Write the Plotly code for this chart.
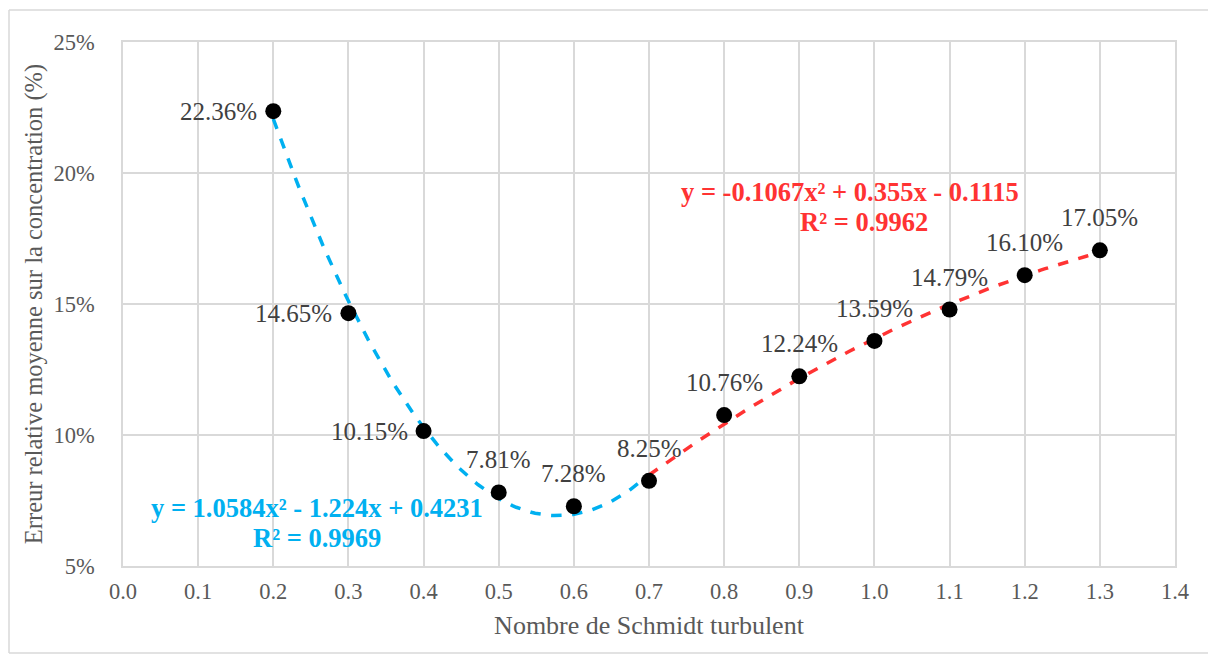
import numpy as np
import plotly.graph_objects as go

x_vals = [0.2, 0.3, 0.4, 0.5, 0.6, 0.7, 0.8, 0.9, 1.0, 1.1, 1.2, 1.3]
y_vals = [0.2236, 0.1465, 0.1015, 0.0781, 0.0728, 0.0825, 0.1076, 0.1224, 0.1359, 0.1479, 0.1610, 0.1705]
labels = ["22.36%", "14.65%", "10.15%", "7.81%", "7.28%", "8.25%", "10.76%", "12.24%", "13.59%", "14.79%", "16.10%", "17.05%"]
label_side = ["left", "left", "left", "top", "top", "top", "top", "top", "top", "top", "top", "top"]

blue_coef = [1.0584, -1.224, 0.4231]
blue_range = [0.2, 0.7]
blue_eq = "y = 1.0584x² - 1.224x + 0.4231"
blue_r2 = "R² = 0.9969"
red_coef = [-0.1067, 0.355, -0.1115]
red_range = [0.7, 1.3]
red_eq = "y = -0.1067x² + 0.355x - 0.1115"
red_r2 = "R² = 0.9962"

x_title = "Nombre de Schmidt turbulent"
y_title = "Erreur relative moyenne sur la concentration (%)"

FONT = "Liberation Serif"
fig = go.Figure()

xb = np.linspace(blue_range[0], blue_range[1], 100)
fig.add_trace(go.Scatter(x=xb, y=np.polyval(blue_coef, xb), mode="lines",
                         line=dict(color="#00B0F0", width=3.5, dash="dash"), hoverinfo="skip"))
xr = np.linspace(red_range[0], red_range[1], 100)
fig.add_trace(go.Scatter(x=xr, y=np.polyval(red_coef, xr), mode="lines",
                         line=dict(color="#FF3333", width=3.5, dash="dash"), hoverinfo="skip"))

fig.add_trace(go.Scatter(x=x_vals, y=y_vals, mode="markers",
                         marker=dict(color="black", size=16)))

lab_font = dict(family=FONT, size=25, color="#404040")
for xv, yv, t, side in zip(x_vals, y_vals, labels, label_side):
    if side == "left":
        fig.add_annotation(x=xv, y=yv, text=t, showarrow=False, xanchor="right", yanchor="middle",
                           xshift=-14, font=lab_font)
    else:
        fig.add_annotation(x=xv, y=yv, text=t, showarrow=False, xanchor="center", yanchor="bottom",
                           yshift=17, font=lab_font)

L, R, T, B = 123, 33, 42, 89
W, H = 1208, 655
pw, ph = W - L - R, H - T - B

def px(xp):
    return (xp - L) / pw

def py(yp):
    return (H - B - yp) / ph

border = dict(color="#D9D9D9", width=1.5)
fig.add_shape(type="line", xref="paper", yref="paper", x0=px(9), x1=px(9), y0=py(653), y1=py(10), line=border, layer="below")
fig.add_shape(type="line", xref="paper", yref="paper", x0=px(9), x1=px(1230), y0=py(10), y1=py(10), line=border, layer="below")
fig.add_shape(type="line", xref="paper", yref="paper", x0=px(9), x1=px(1230), y0=py(653), y1=py(653), line=border, layer="below")

eq_font_b = dict(family=FONT, size=26.5, color="#00B0F0", weight="bold")
eq_font_r = dict(family=FONT, size=26.5, color="#FF3333", weight="bold")
fig.add_annotation(x=0.2585, y=0.0721, text=blue_eq, showarrow=False, font=eq_font_b)
fig.add_annotation(x=0.2585, y=0.0607, text=blue_r2, showarrow=False, font=eq_font_b)
fig.add_annotation(x=0.9675, y=0.1928, text=red_eq, showarrow=False, font=eq_font_r)
fig.add_annotation(x=0.9861, y=0.1813, text=red_r2, showarrow=False, font=eq_font_r)

fig.update_layout(
    width=W, height=H, showlegend=False,
    margin=dict(l=L, r=R, t=T, b=B),
    paper_bgcolor="white", plot_bgcolor="white",
    font=dict(family=FONT, size=22.5, color="#595959"),
    xaxis=dict(range=[0, 1.4], dtick=0.1, tick0=0, tickformat=".1f",
               showgrid=True, gridcolor="#D9D9D9", gridwidth=1.5,
               zeroline=False, showline=True, linecolor="#D9D9D9", linewidth=1.5, mirror=True,
               ticks="", ticklabelstandoff=4,
               title=dict(text=x_title, font=dict(size=26, color="#595959"), standoff=13)),
    yaxis=dict(range=[0.05, 0.25], dtick=0.05, tick0=0.05, tickformat=".0%",
               showgrid=True, gridcolor="#D9D9D9", gridwidth=1.5,
               zeroline=False, showline=True, linecolor="#D9D9D9", linewidth=1.5, mirror=True,
               ticks="", ticklabelstandoff=22,
               title=dict(text=y_title, font=dict(size=24.5, color="#595959"), standoff=4)),
)

fig.write_html("out.html", config={"displayModeBar": False},
               post_script="document.body.style.margin='0';document.body.style.overflow='hidden';")
